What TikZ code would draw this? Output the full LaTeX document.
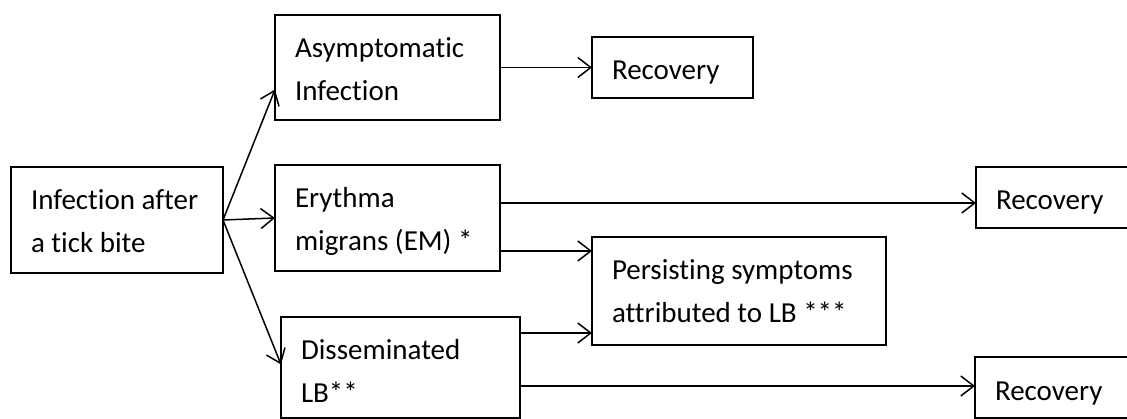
\documentclass[tikz,border=0pt]{standalone}
\usepackage{fontspec}
\setmainfont{Carlito}[Ligatures=CommonOff]
\usetikzlibrary{positioning,calc,arrows.meta}

\begin{document}
\begin{tikzpicture}[
    x=1pt, y=-1pt,
    font=\fontsize{29}{43}\selectfont,
    box/.style={rectangle, draw, line width=1.5pt, outer sep=0pt, anchor=north west, align=flush left, inner xsep=20pt, inner ysep=0pt, text height=43pt},
    link/.style={line width=1.5pt, -{Straight Barb[length=13pt,width=20pt]}}
]
    \useasboundingbox (0,0) rectangle (1127,419);

    \node[box, text width=172pt, text depth=63pt] (infect) at (11,167) {Infection after\\a tick bite};
    \node[box, text width=185pt, text depth=62pt] (asym) at (275,15) {Asymptomatic\\Infection};
    \node[box, text width=185pt, text depth=63pt] (ery) at (275,165) {Erythma\\migrans (EM) *};
    \node[box, text width=199pt, text depth=58pt] (diss) at (281,317) {Disseminated\\LB**};
    \node[box, text width=254pt, text depth=65pt] (pers) at (592,237) {Persisting symptoms\\attributed to LB ***};

    \foreach \name/\x/\y/\w in {rec1/592/37/121, rec2/976/167/120, rec3/975/357/120}
        \node[box, text width=\w pt, text depth=18pt] (\name) at (\x,\y) {Recovery};

    \draw[link] (infect.east) -- ($(asym.west)+(0,22)$);
    \draw[link] (infect.east) -- (ery.west);
    \draw[link] (infect.east) -- ($(diss.west)+(0,-3)$);
    \draw[link] (asym.east) -- (rec1.west);

    \coordinate (eryA) at ($(ery.north east)+(0,38)$);
    \coordinate (eryB) at ($(ery.north east)+(0,86)$);
    \coordinate (dissA) at ($(diss.north east)+(0,16)$);
    \coordinate (dissB) at ($(diss.north east)+(0,69)$);
    \draw[link] (eryA) -- (eryA -| rec2.west);
    \draw[link] (eryB) -- (eryB -| pers.west);
    \draw[link] (dissA) -- (dissA -| pers.west);
    \draw[link] (dissB) -- (dissB -| rec3.west);
\end{tikzpicture}
\end{document}
